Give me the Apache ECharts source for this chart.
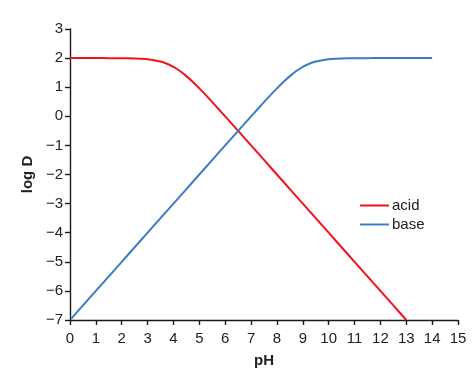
<!DOCTYPE html>
<html><head><meta charset="utf-8">
<script src="https://cdn.jsdelivr.net/npm/echarts@6/dist/echarts.min.js"></script>
<style>html,body{margin:0;padding:0;background:#fff}#c{width:474px;height:384px}</style>
</head><body><div id="c"></div>
<script>
const xTicks = [0,1,2,3,4,5,6,7,8,9,10,11,12,13,14,15];
const yTicks = [-7,-6,-5,-4,-3,-2,-1,0,1,2,3];
const acidPH = [0,0.5,1,1.5,2,2.5,2.75,3,3.25,3.5,3.75,4,4.25,4.5,4.75,5,5.25,5.5,5.75,6,6.5,7,7.5,8,8.5,9,9.5,10,10.5,11,11.5,12,12.5,13];
const acidLogD = [2.0,2.0,2.0,1.999,1.996,1.986,1.976,1.959,1.929,1.881,1.806,1.699,1.556,1.381,1.179,0.959,0.726,0.487,0.242,-0.004,-0.501,-1.0,-1.5,-2.0,-2.5,-3.0,-3.5,-4.0,-4.5,-5.0,-5.5,-6.0,-6.5,-7.0];
const basePH = [0.05,0.5,1,1.5,2,2.5,3,3.5,4,4.5,5,5.5,6,6.5,7,7.25,7.5,7.75,8,8.25,8.5,8.75,9,9.25,9.5,9.75,10,10.25,10.5,11,11.5,12,12.5,13,13.5,14];
const baseLogD = [-6.95,-6.5,-6.0,-5.5,-5.0,-4.5,-4.0,-3.5,-3.0,-2.5,-2.0,-1.5,-1.0,-0.501,-0.004,0.242,0.487,0.726,0.959,1.179,1.381,1.556,1.699,1.806,1.881,1.929,1.959,1.976,1.986,1.996,1.999,2.0,2.0,2.0,2.0,2.0];
const seriesNames = ['acid','base'];
const colors = ['#f2121c','#3d7cc4'];

const acidData = acidPH.map((x,i)=>[x,acidLogD[i]]);
const baseData = basePH.map((x,i)=>[x,baseLogD[i]]);
const fmt = v => (v<0 ? '\u2212'+Math.abs(v) : String(v));
const font = 'Liberation Sans, Arial, sans-serif';
const axisCommon = {
  axisLine:{show:true,onZero:false,lineStyle:{color:'#1a1a1a',width:1.4}},
  axisTick:{show:true,inside:false,length:5,lineStyle:{color:'#1a1a1a',width:1.4}},
  splitLine:{show:false},
  nameTextStyle:{fontFamily:font,fontSize:15,fontWeight:'bold',color:'#222'}
};
const chart = echarts.init(document.getElementById('c'),null,{renderer:'canvas'});
chart.setOption({
  animation:false,
  backgroundColor:'#fff',
  grid:{left:70,right:16,top:29,bottom:64,containLabel:false},
  legend:{
    orient:'vertical', left:355, top:193, itemGap:4,
    itemWidth:29, itemHeight:2, icon:'rect',
    textStyle:{fontFamily:font,fontSize:15,color:'#222',padding:[0,0,0,-2]},
    data:seriesNames
  },
  xAxis:Object.assign({
    type:'value', min:xTicks[0], max:xTicks[xTicks.length-1], interval:1,
    name:'pH', nameLocation:'middle', nameGap:33,
    axisLabel:{fontFamily:font,fontSize:15,color:'#222',margin:11,formatter:fmt}
  },axisCommon),
  yAxis:Object.assign({
    type:'value', min:yTicks[0], max:yTicks[yTicks.length-1], interval:1,
    name:'log D', nameLocation:'middle', nameGap:32,
    axisLabel:{fontFamily:font,fontSize:15,color:'#222',margin:7,formatter:fmt}
  },axisCommon),
  series:[
    {name:seriesNames[0],type:'line',data:acidData,showSymbol:false,smooth:0.3,
     lineStyle:{color:colors[0],width:2},itemStyle:{color:colors[0]}},
    {name:seriesNames[1],type:'line',data:baseData,showSymbol:false,smooth:0.3,
     lineStyle:{color:colors[1],width:2},itemStyle:{color:colors[1]}}
  ]
});
</script></body></html>
